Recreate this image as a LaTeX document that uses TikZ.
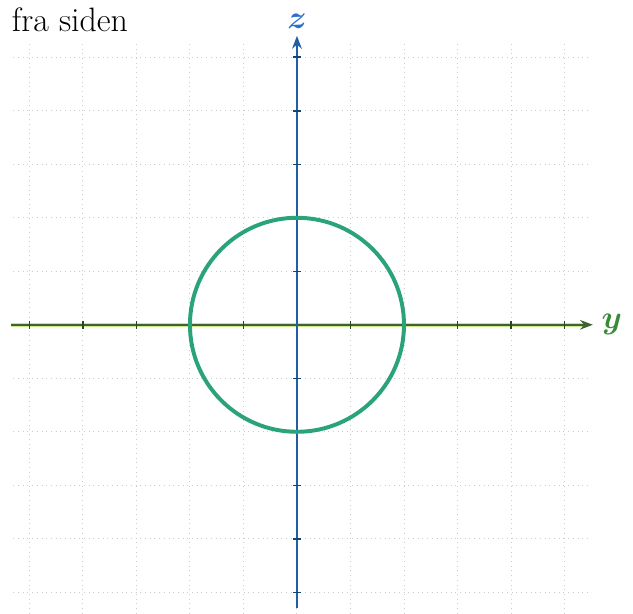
\documentclass[tikz,border=0pt]{standalone}
\usepackage{amsmath,amssymb}
\usepackage{bm}
\usepackage{tikz}
\usetikzlibrary{arrows.meta,positioning,calc}

\definecolor{zblue}{HTML}{1F5FA8}
\definecolor{zlabel}{HTML}{2A6FD0}
\definecolor{ygreen}{HTML}{3A6530}
\definecolor{ylabel}{HTML}{3A8A3A}
\definecolor{ring}{HTML}{2AA37A}

\begin{document}
\begin{tikzpicture}[
    gridline/.style={gray!40, dotted, line width=0.5pt},
    axis/.style={-{Stealth[length=2.4mm]}, line width=1.3pt},
    tick/.style={line width=0.8pt},
    lbl/.style={font=\fontsize{17}{20}\selectfont}
  ]
    \useasboundingbox (-5.55,-5.40) rectangle (6.28,6.07);
    % rutenett
    \foreach \i in {-5,...,5} {
      \draw[gridline] (\i,-5.4) -- (\i,5.3);
      \draw[gridline] (-5.3,\i) -- (5.5,\i);
    }
    % akser
    \coordinate (yl) at (-5.35,0);
    \coordinate (yr) at (5.53,0);
    \coordinate (zb) at (0,-5.3);
    \coordinate (zt) at (0,5.4);
    \draw[yellow!60!green!50, line width=2.4pt] (yl) -- ($(yr)+(-0.15,0)$);
    \draw[axis, ygreen] (yl) -- (yr);
    \draw[axis, zblue] (zb) -- (zt);
    \foreach \i in {-5,...,-1,1,2,...,5} {
      \draw[tick, ygreen!70!black] (\i,-0.07) -- (\i,0.07);
      \draw[tick, zblue!70!black] (-0.07,\i) -- (0.07,\i);
    }
    \node[lbl, text=ylabel, right=0.04cm of yr] (ylab) {$\bm{y}$};
    \node[lbl, text=zlabel, above=0.02cm of zt] (zlab) {$\bm{z}$};
    % sirkelen
    \draw[ring, line width=2.1pt] (0,0) circle (2);
    \node[font=\fontsize{18}{21}\selectfont, anchor=west] (title) at (-5.45,5.70) {fra siden};
  \end{tikzpicture}
\end{document}
